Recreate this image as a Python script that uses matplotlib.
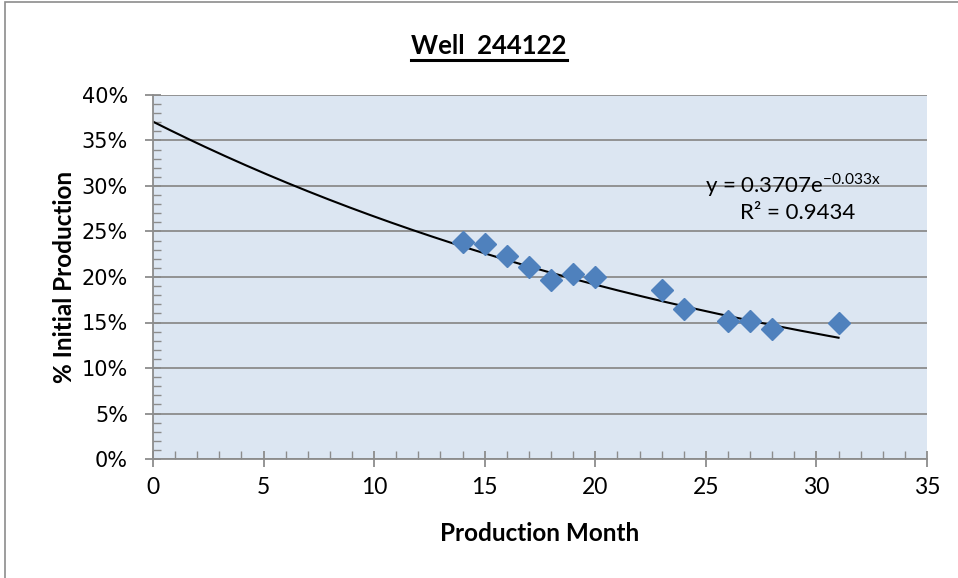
import numpy as np
import matplotlib
matplotlib.use("Agg")
import matplotlib.pyplot as plt
from matplotlib.lines import Line2D
from matplotlib.patches import Rectangle
from matplotlib.ticker import MultipleLocator, FuncFormatter

months = [14, 15, 16, 17, 18, 19, 20, 23, 24, 26, 27, 28, 31]
pct_initial = [0.2385, 0.236, 0.223, 0.211, 0.197, 0.203, 0.200, 0.186, 0.165, 0.152, 0.152, 0.143, 0.150]
fit_a = 0.3707
fit_b = -0.033
title = "Well  244122"
xlabel = "Production Month"
ylabel = "% Initial Production"
eq_text = r"y = 0.3707e$^{\mathregular{-0.033x}}$"
r2_text = "R² = 0.9434"

W, H = 958, 578
fig = plt.figure(figsize=(W / 100, H / 100), dpi=100)
fig.patches.append(Rectangle((5 / W, -0.1), 1.2, 1 - 2 / H + 0.1, transform=fig.transFigure,
                             fill=False, edgecolor="#8c8c8c", linewidth=1.2))

ax = fig.add_axes([153 / W, 1 - 459 / H, (927 - 153) / W, (459 - 95) / H])
ax.set_facecolor("#DCE6F2")
ax.set_xlim(0, 35)
ax.set_ylim(0, 0.40)

ax.yaxis.set_major_locator(MultipleLocator(0.05))
ax.yaxis.set_minor_locator(MultipleLocator(0.01))
ax.xaxis.set_major_locator(MultipleLocator(5))
ax.xaxis.set_minor_locator(MultipleLocator(1))
ax.yaxis.set_major_formatter(FuncFormatter(lambda v, p: f"{v*100:.0f}%"))
ax.grid(axis="y", which="major", color="#8c8c8c", linewidth=1.3)
ax.set_axisbelow(True)
for s in ["top", "right"]:
    ax.spines[s].set_visible(False)
for s in ["left", "bottom"]:
    ax.spines[s].set_color("#8c8c8c")
    ax.spines[s].set_linewidth(1.3)
ax.tick_params(which="major", direction="inout", length=12, width=1.3, color="#8c8c8c")
ax.tick_params(which="minor", direction="in", length=6, width=1.0, color="#8c8c8c")
ax.tick_params(axis="y", which="major", pad=12, labelsize=15)
ax.tick_params(axis="x", which="major", pad=7, labelsize=16.5)
for lab in ax.get_yticklabels():
    lab.set_fontfamily("DejaVu Sans")
for lab in ax.get_xticklabels():
    lab.set_fontfamily("Lato")

xs = np.linspace(0, max(months), 200)
ax.plot(xs, fit_a * np.exp(fit_b * xs), color="black", linewidth=1.5, zorder=2)
ax.plot(months, pct_initial, linestyle="none", marker="D", markersize=11,
        color="#4F81BD", markeredgecolor="#4F81BD", zorder=3)

ax.text(24.96, 0.301, eq_text, fontsize=16, family="Lato", ha="left", va="center")
ax.text(26.54, 0.270, r2_text, fontsize=16, family="Lato", ha="left", va="center")

ax.set_xlabel(xlabel, fontsize=17.5, fontweight="bold", family="Lato", labelpad=17)
ax.set_ylabel(ylabel, fontsize=17.5, fontweight="bold", family="Lato", labelpad=4)

t = fig.text(489 / W, 1 - 46 / H, title, fontsize=18.5, fontweight="bold",
             family="Lato", ha="center", va="center")
fig.canvas.draw()
bb = t.get_window_extent(renderer=fig.canvas.get_renderer())
uy = (bb.y0 - 2) / H
fig.add_artist(Line2D([bb.x0 / W, bb.x1 / W], [uy, uy], transform=fig.transFigure,
                      color="black", linewidth=2.2))

fig.savefig("out.png", dpi=100)
